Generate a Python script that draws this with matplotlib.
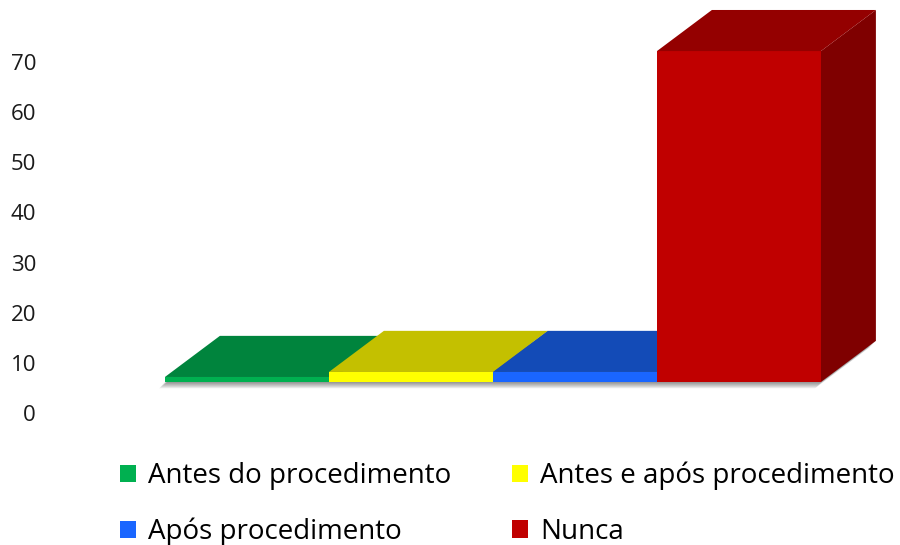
import matplotlib.pyplot as plt
from matplotlib.patches import Polygon, Patch
import matplotlib.transforms as mtransforms

plt.rcParams['font.family'] = ['Open Sans', 'DejaVu Sans']

# dados do gráfico
categorias = ["Antes do procedimento", "Antes e após procedimento",
              "Após procedimento", "Nunca"]
valores = [1, 2, 2, 66]
ticks_y = [0, 10, 20, 30, 40, 50, 60, 70]

# cores: frente, topo e lateral de cada coluna
cor_frente = ["#00B050", "#FFFF00", "#1A66FF", "#C00000"]
cor_topo = ["#00843D", "#C4C000", "#134BB7", "#940000"]
cor_lado = ["#00602C", "#8E8B00", "#0E3888", "#7F0000"]

# profundidade do efeito 3D (em unidades dos eixos)
prof_x = 0.335
prof_y = 8.2

fig = plt.figure(figsize=(9, 5.45), dpi=100)
rect = [100 / 900, 105 / 545, 780 / 900, 440 / 545]

# eixo só com os rótulos de valores
ax_t = fig.add_axes(rect, frameon=False)
ax_t.set_xlim(0, 1)
ax_t.set_ylim(-5.385, 82.37)
ax_t.set_yticks(ticks_y)
ax_t.set_yticklabels([str(t) for t in ticks_y], fontsize=16, color="#1a1a1a")
ax_t.tick_params(axis="y", length=0, pad=46)
ax_t.set_xticks([])

# eixo das colunas
ax = fig.add_axes(rect, frameon=False)
ax.patch.set_visible(False)
ax.set_xlim(-0.896, 3.860)
ax.set_ylim(-11.57, 76.19)
ax.set_xticks([])
ax.set_yticks([])

n = len(valores)
x0_base = -0.5
x1_base = n - 0.5

# sombra suave sob as colunas
base = [(x0_base, 0), (x1_base, 0), (x1_base + prof_x, prof_y), (x0_base + prof_x, prof_y)]
for k in range(1, 7):
    off = mtransforms.ScaledTranslation(-0.7 * k / 72, -0.75 * k / 72, fig.dpi_scale_trans)
    ax.add_patch(Polygon(base, closed=True, facecolor="#000000", alpha=0.08,
                         edgecolor="none", transform=ax.transData + off, zorder=1))

# colunas 3D
for i, v in enumerate(valores):
    x0 = i - 0.5
    x1 = i + 0.5
    lado = [(x1, 0), (x1 + prof_x, prof_y), (x1 + prof_x, v + prof_y), (x1, v)]
    topo = [(x0, v), (x1, v), (x1 + prof_x, v + prof_y), (x0 + prof_x, v + prof_y)]
    ax.add_patch(Polygon(lado, closed=True, facecolor=cor_lado[i], edgecolor="none", zorder=2 + i))
    ax.bar(i, v, width=1.0, color=cor_frente[i], edgecolor="none", zorder=2 + i)
    ax.add_patch(Polygon(topo, closed=True, facecolor=cor_topo[i], edgecolor="none", zorder=2 + i))

# legenda em duas colunas
handles = [Patch(facecolor=c, edgecolor="none") for c in cor_frente]
ordem = [0, 2, 1, 3]
fig.legend([handles[j] for j in ordem], [categorias[j] for j in ordem],
           ncol=2, loc="upper left", bbox_to_anchor=(120 / 900, 1 - 462 / 545),
           frameon=False, fontsize=20, handlelength=0.58, handleheight=0.58,
           handletextpad=0.42, columnspacing=2.2, labelspacing=0.98,
           borderpad=0, borderaxespad=0)

fig.savefig("out.png", dpi=100, facecolor="white")
